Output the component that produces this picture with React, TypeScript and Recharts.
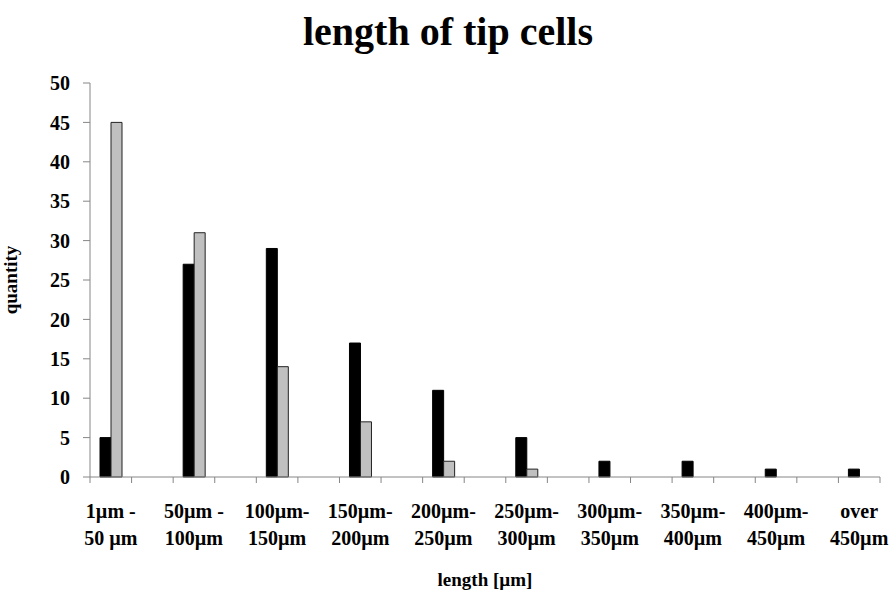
import { Bar, BarChart, Label, XAxis, YAxis } from "recharts"

// range labels, split over two lines like the original sheet
const rangeFrom = ["1µm -", "50µm -", "100µm-", "150µm-", "200µm-", "250µm-", "300µm-", "350µm-", "400µm-", "over"]
const rangeTo = ["50 µm", "100µm", "150µm", "200µm", "250µm", "300µm", "350µm", "400µm", "450µm", "450µm"]

const blackSeries = [5, 27, 29, 17, 11, 5, 2, 2, 1, 1]
const greySeries = [45, 31, 14, 7, 2, 1, 0, 0, 0, 0]

const yTicks = [0, 5, 10, 15, 20, 25, 30, 35, 40, 45, 50]

const FONT = '"Liberation Serif", "Times New Roman", serif'
const AXIS_GREY = "#868686"

const CHART_W = 896
const CHART_H = 592
const PLOT_TOP = 83
const PLOT_BOTTOM = 477
const PLOT_LEFT = 90
const PLOT_RIGHT = 880

// Excel leaves an empty slot between each range, so interleave spacer rows
const rows: Array<{ key: string; from: string; to: string; black: number | null; grey: number | null }> = []
rangeFrom.forEach((from, i) => {
  rows.push({ key: `r${i}`, from, to: rangeTo[i], black: blackSeries[i], grey: greySeries[i] })
  if (i < rangeFrom.length - 1) {
    rows.push({ key: `gap${i}`, from: "", to: "", black: null, grey: null })
  }
})

const BAND = (PLOT_RIGHT - PLOT_LEFT) / rows.length

function RangeTick(props: any) {
  const { x, y, index } = props
  const row = rows[index]
  const isLast = index === rows.length - 1
  return (
    <g>
      <line x1={x - BAND / 2} x2={x - BAND / 2} y1={y} y2={y + 6} stroke={AXIS_GREY} />
      {isLast && <line x1={x + BAND / 2} x2={x + BAND / 2} y1={y} y2={y + 6} stroke={AXIS_GREY} />}
      {row && row.from !== "" && (
        <text textAnchor="middle" fontFamily={FONT} fontWeight="bold" fontSize={20} fill="#000">
          <tspan x={x} y={y + 41}>{row.from}</tspan>
          <tspan x={x} y={y + 68}>{row.to}</tspan>
        </text>
      )}
    </g>
  )
}

export default function App() {
  return (
    <div style={{ position: "absolute", left: 0, top: 0, width: CHART_W, height: CHART_H, background: "#fff" }}>
      <div
        style={{
          position: "absolute",
          left: 0,
          top: 10,
          width: CHART_W,
          textAlign: "center",
          fontFamily: FONT,
          fontWeight: "bold",
          fontSize: 40,
          lineHeight: "44px",
        }}
      >
        length of tip cells
      </div>
      <BarChart
        width={CHART_W}
        height={CHART_H}
        data={rows}
        margin={{ top: PLOT_TOP, right: CHART_W - PLOT_RIGHT, bottom: 0, left: 0 }}
        barGap={0}
        barSize={11}
      >
        <XAxis
          dataKey="key"
          height={CHART_H - PLOT_BOTTOM}
          interval={0}
          tickLine={false}
          tickSize={0}
          tickMargin={0}
          stroke={AXIS_GREY}
          tick={<RangeTick />}
        >
          <Label
            value="length [µm]"
            position="insideBottom"
            offset={6}
            style={{ fontFamily: FONT, fontWeight: "bold", fontSize: 19, fill: "#000" }}
          />
        </XAxis>
        <YAxis
          width={PLOT_LEFT}
          domain={[0, 50]}
          ticks={yTicks}
          interval={0}
          tickSize={7}
          tickMargin={13}
          stroke={AXIS_GREY}
          tick={{ fill: "#000", fontFamily: FONT, fontWeight: "bold", fontSize: 20 }}
        >
          <Label
            value="quantity"
            angle={-90}
            position="insideLeft"
            offset={10}
            style={{ fontFamily: FONT, fontWeight: "bold", fontSize: 19, fill: "#000", textAnchor: "middle" }}
          />
        </YAxis>
        <Bar dataKey="black" fill="#000" stroke="#000" strokeWidth={1} isAnimationActive={false} />
        <Bar dataKey="grey" fill="#c0c0c0" stroke="#222" strokeWidth={1} isAnimationActive={false} />
      </BarChart>
    </div>
  )
}
